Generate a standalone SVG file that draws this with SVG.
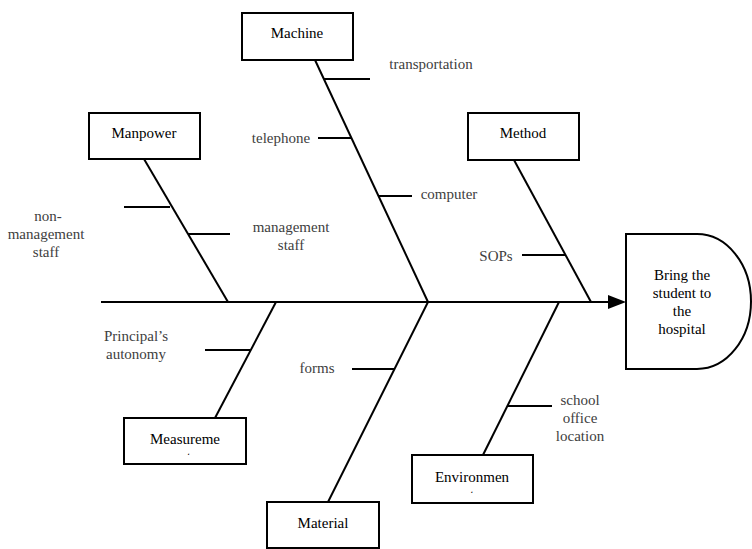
<svg xmlns="http://www.w3.org/2000/svg" width="752" height="549" viewBox="0 0 752 549">
<style>
.box{fill:#fff;stroke:#000;stroke-width:2}
.ln{stroke:#000;stroke-width:2;fill:none}
</style>
<defs>
<clipPath id="cm"><rect x="124" y="418" width="122" height="37"/></clipPath>
<clipPath id="ce"><rect x="412" y="455" width="121" height="38"/></clipPath>
</defs>
<g id="connectors">
<line class="ln" x1="101" y1="302" x2="608" y2="302"/>
<path d="M608,295 L626,302 L608,309 Z" fill="#000"/>
<line class="ln" x1="315" y1="60" x2="428" y2="302"/>
<line class="ln" x1="144" y1="159" x2="228" y2="302"/>
<line class="ln" x1="514" y1="160" x2="591" y2="302"/>
<line class="ln" x1="276" y1="302" x2="215" y2="418"/>
<line class="ln" x1="428" y1="302" x2="328" y2="502"/>
<line class="ln" x1="559" y1="302" x2="483" y2="455"/>
<line class="ln" x1="324" y1="79" x2="370" y2="79"/>
<line class="ln" x1="318" y1="138" x2="351" y2="138"/>
<line class="ln" x1="378" y1="196" x2="412" y2="196"/>
<line class="ln" x1="124" y1="207" x2="170" y2="207"/>
<line class="ln" x1="188" y1="234" x2="230" y2="234"/>
<line class="ln" x1="522" y1="255" x2="566" y2="255"/>
<line class="ln" x1="205" y1="350" x2="250" y2="350"/>
<line class="ln" x1="352" y1="369" x2="395" y2="369"/>
<line class="ln" x1="508" y1="406" x2="552" y2="406"/>
</g>
<g id="labels" font-family="Liberation Serif, Times New Roman, serif" font-size="15" text-anchor="middle" fill="#404040">
<text x="431" y="69">transportation</text>
<text x="281" y="143">telephone</text>
<text x="449" y="199">computer</text>
<text x="48" y="221">non-</text>
<text x="46" y="239">management</text>
<text x="46" y="257">staff</text>
<text x="291" y="232">management</text>
<text x="291" y="250">staff</text>
<text x="496" y="261">SOPs</text>
<text x="136" y="341">Principal’s</text>
<text x="136" y="359">autonomy</text>
<text x="317" y="373">forms</text>
<text x="580" y="405">school</text>
<text x="580" y="423">office</text>
<text x="580" y="441">location</text>
</g>
<g font-family="Liberation Serif, Times New Roman, serif" font-size="15" text-anchor="middle" fill="#000">
<g id="machine">
<rect class="box" x="242" y="13" width="111" height="47"/>
<text x="297" y="38">Machine</text>
</g>
<g id="manpower">
<rect class="box" x="89" y="113" width="111" height="46"/>
<text x="144" y="138">Manpower</text>
</g>
<g id="method">
<rect class="box" x="468" y="113" width="111" height="47"/>
<text x="523" y="138">Method</text>
</g>
<g id="measurement">
<rect class="box" x="124" y="418" width="122" height="46"/>
<text x="185" y="444">Measureme</text>
<text x="185" y="462" clip-path="url(#cm)">nt</text>
</g>
<g id="environment">
<rect class="box" x="412" y="455" width="121" height="48"/>
<text x="472" y="482">Environmen</text>
<text x="472" y="500" clip-path="url(#ce)">t</text>
</g>
<g id="material">
<rect class="box" x="267" y="502" width="112" height="46"/>
<text x="323" y="528">Material</text>
</g>
<g id="effect">
<path class="box" d="M626,234 H697 A54,67.5 0 0 1 697,369 H626 Z"/>
<text x="682" y="280">Bring the</text>
<text x="682" y="298">student to</text>
<text x="682" y="316">the</text>
<text x="682" y="334">hospital</text>
</g>
</g>
</svg>
